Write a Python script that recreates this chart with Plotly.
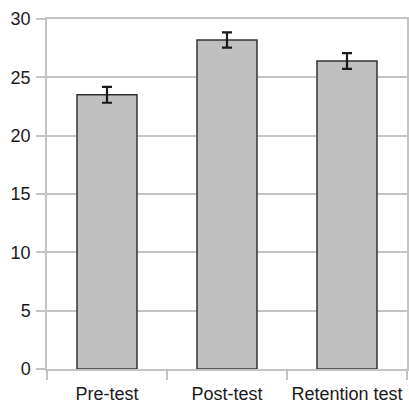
import plotly.graph_objects as go

categories = ["Pre-test", "Post-test", "Retention test"]
means = [23.5, 28.2, 26.4]
errors = [0.68, 0.66, 0.67]
y_ticks = [0, 5, 10, 15, 20, 25, 30]

fig = go.Figure()
fig.add_trace(go.Bar(
    x=categories,
    y=means,
    width=0.5,
    marker=dict(color="#c0c0c0", line=dict(color="#333333", width=1.5)),
    error_y=dict(type="data", array=errors, visible=True,
                 color="#1a1a1a", thickness=2.2, width=5),
))

grid = "#c4c4c4"
fig.update_layout(
    width=409, height=404,
    margin=dict(l=47, r=2, t=19, b=35, autoexpand=False),
    paper_bgcolor="white", plot_bgcolor="white",
    font=dict(family="Liberation Sans, Arial, sans-serif", size=18, color="#1a1a1a"),
    showlegend=False,
    bargap=0.5,
)
fig.update_xaxes(
    type="category",
    tickson="boundaries",
    tickangle=0,
    automargin=False,
    ticks="outside", ticklen=9, tickcolor=grid, tickwidth=1.5,
    ticklabelstandoff=8,
    showline=True, linecolor=grid, linewidth=1.5, mirror=True,
    showgrid=False,
    tickfont=dict(size=18),
)
fig.update_yaxes(
    range=[0, 30],
    tickvals=y_ticks,
    automargin=False,
    ticks="outside", ticklen=9, tickcolor=grid, tickwidth=1.5,
    ticklabelstandoff=2,
    showgrid=True, gridcolor=grid, gridwidth=1.5,
    showline=True, linecolor=grid, linewidth=1.5, mirror=True,
    zeroline=False,
    tickfont=dict(size=18),
)

fig.write_html(
    "out.html",
    config={"displayModeBar": False},
    post_script="document.body.style.margin='0px';document.body.style.overflow='hidden';",
)
